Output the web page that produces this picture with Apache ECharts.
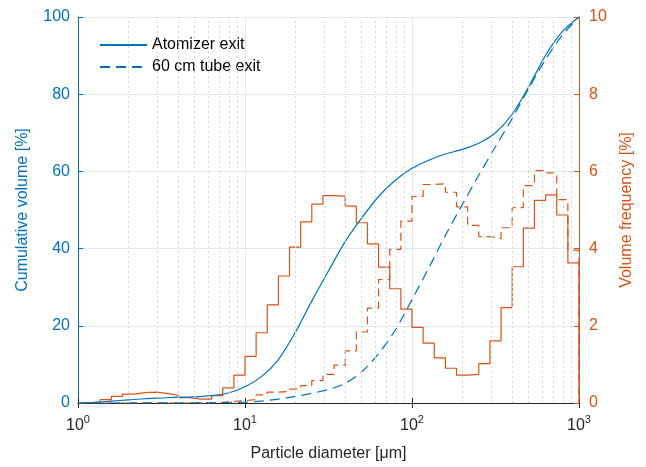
<!DOCTYPE html>
<html>
<head>
<meta charset="utf-8">
<script src="https://cdn.jsdelivr.net/npm/echarts@6/dist/echarts.min.js"></script>
<style>
  html, body { margin: 0; padding: 0; background: #fff; }
  #chart { width: 646px; height: 467px; }
</style>
</head>
<body>
<div id="chart"></div>
<script>
// histogram bins: 15 per decade from 1 to 1000 um
const binsPerDecade = 15;
const binCount = 45;

// volume frequency [%] per bin
const freqAtomizer = [0.0, 0.03, 0.09, 0.17, 0.23, 0.27, 0.28, 0.25, 0.20, 0.14,
    0.10, 0.10, 0.19, 0.39, 0.72, 1.21, 1.82, 2.54, 3.29, 4.04,
    4.69, 5.15, 5.37, 5.36, 5.10, 4.67, 4.12, 3.52, 2.96, 2.43,
    1.96, 1.55, 1.17, 0.90, 0.72, 0.74, 1.02, 1.61, 2.47, 3.53,
    4.53, 5.25, 5.39, 4.87, 3.63];
const freqTube = [0, 0, 0, 0, 0, 0, 0, 0, 0, 0,
    0, 0, 0.02, 0.04, 0.06, 0.09, 0.21, 0.28, 0.30, 0.36,
    0.45, 0.58, 0.74, 0.98, 1.35, 1.84, 2.46, 3.20, 3.98, 4.71,
    5.35, 5.66, 5.68, 5.46, 5.08, 4.60, 4.31, 4.26, 4.54, 5.06,
    5.63, 6.02, 5.96, 5.27, 3.96];

// cumulative volume [%] sampled at these diameters
const diameters = [1, 1.26, 1.58, 2.0, 2.51, 3.16, 3.98, 5.01, 6.31, 7.94,
    10, 12.6, 15.8, 20.0, 25.1, 31.6, 39.8, 50.1, 63.1, 79.4,
    100, 126, 158, 200, 251, 316, 398, 501, 631, 794, 1000];
const cumAtomizer = [0, 0.2, 0.5, 0.8, 1.1, 1.3, 1.5, 1.6, 1.9, 2.6,
    4.2, 6.9, 11.2, 18.3, 26.4, 34.2, 41.8, 48.0, 53.5, 57.7,
    60.8, 62.9, 64.5, 65.7, 67.3, 70.0, 74.8, 82.0, 90.1, 96.2, 100];
const cumTube = [0, 0, 0, 0, 0.02, 0.03, 0.05, 0.07, 0.1, 0.15,
    0.2, 0.5, 1.0, 1.7, 2.5, 3.5, 5.1, 8.1, 12.8, 18.9,
    26.8, 35.0, 43.3, 51.4, 59.0, 66.4, 73.7, 81.6, 89.0, 95.3, 100];

const minorGrid = [2, 3, 4, 5, 6, 7, 8, 9, 20, 30, 40, 50, 60, 70, 80, 90,
    200, 300, 400, 500, 600, 700, 800, 900];

const blue = '#0072BD';
const orange = '#D95319';
const font = 'Liberation Sans, Arial, Helvetica, sans-serif';

function stairs(values) {
    const pts = [];
    for (let k = 0; k < binCount; k++) {
        pts.push([Math.pow(10, k / binsPerDecade), values[k]]);
    }
    pts.push([Math.pow(10, binCount / binsPerDecade), 0]);
    return pts;
}

document.addEventListener('DOMContentLoaded', function () {
    const chart = echarts.init(document.getElementById('chart'));

    chart.setOption({
        animation: false,
        textStyle: { fontFamily: font },
        grid: { left: 78, right: 67, top: 17, bottom: 63 },
        legend: {
            left: 94,
            top: 32,
            orient: 'vertical',
            itemWidth: 47,
            itemHeight: 10,
            itemGap: 6,
            data: ['Atomizer exit', '60 cm tube exit'],
            itemStyle: { opacity: 0 },
            textStyle: { fontSize: 16, color: '#000', fontFamily: font }
        },
        xAxis: [{
            type: 'log',
            logBase: 10,
            min: 1,
            max: 1000,
            name: 'Particle diameter [\u03bcm]',
            nameLocation: 'middle',
            nameGap: 43,
            nameTextStyle: { fontSize: 16, color: '#262626', fontFamily: font },
            axisLine: { lineStyle: { color: '#262626' } },
            axisTick: { inside: true, length: 5, lineStyle: { color: '#262626' } },
            axisLabel: {
                margin: 11,
                formatter: function (v) {
                    return '{b|10}{s|' + Math.round(Math.log10(v)) + '}';
                },
                rich: {
                    b: { fontSize: 16, color: '#262626', fontFamily: font, lineHeight: 20, verticalAlign: 'bottom' },
                    s: { fontSize: 11, color: '#262626', fontFamily: font, verticalAlign: 'top' }
                }
            },
            splitLine: { show: true, lineStyle: { color: '#e6e6e6', width: 1 } }
        }, {
            type: 'log',
            logBase: 10,
            min: 1,
            max: 1000,
            position: 'top',
            axisLine: { show: true, lineStyle: { color: '#262626' } },
            axisTick: { show: true, inside: true, length: 5, lineStyle: { color: '#262626' } },
            axisLabel: { show: false },
            splitLine: { show: false }
        }],
        yAxis: [{
            type: 'value',
            min: 0,
            max: 100,
            interval: 20,
            position: 'left',
            name: 'Cumulative volume [%]',
            nameLocation: 'middle',
            nameGap: 47,
            nameTextStyle: { fontSize: 16, color: blue, fontFamily: font },
            axisLine: { show: true, lineStyle: { color: blue } },
            axisTick: { show: true, inside: true, length: 5, lineStyle: { color: blue } },
            axisLabel: { fontSize: 16, color: blue, margin: 8 },
            splitLine: { show: true, lineStyle: { color: '#dde9f4' } }
        }, {
            type: 'value',
            min: 0,
            max: 10,
            interval: 2,
            position: 'right',
            name: 'Volume frequency [%]',
            nameLocation: 'middle',
            nameGap: 40,
            nameTextStyle: { fontSize: 16, color: orange, fontFamily: font },
            axisLine: { show: true, lineStyle: { color: orange } },
            axisTick: { show: true, inside: true, length: 5, lineStyle: { color: orange } },
            axisLabel: { fontSize: 16, color: orange, margin: 10 },
            splitLine: { show: false }
        }],
        series: [
            {
                name: 'freq atomizer',
                type: 'line',
                yAxisIndex: 1,
                step: 'end',
                symbol: 'none',
                data: stairs(freqAtomizer),
                lineStyle: { color: orange, width: 1.2 },
                itemStyle: { color: orange },
                markLine: {
                    silent: true,
                    symbol: 'none',
                    label: { show: false },
                    lineStyle: { color: '#d6d6d6', type: [2, 3], width: 1 },
                    data: minorGrid.map(function (d) { return { xAxis: d }; })
                },
                z: 2
            },
            {
                name: 'freq tube',
                type: 'line',
                yAxisIndex: 1,
                step: 'end',
                symbol: 'none',
                data: stairs(freqTube),
                lineStyle: { color: orange, width: 1.2, type: [8, 5] },
                itemStyle: { color: orange },
                z: 2
            },
            {
                name: 'Atomizer exit',
                type: 'line',
                yAxisIndex: 0,
                symbol: 'none',
                smooth: 0.3,
                data: diameters.map(function (d, i) { return [d, cumAtomizer[i]]; }),
                lineStyle: { color: blue, width: 1.2 },
                itemStyle: { color: blue },
                z: 3
            },
            {
                name: '60 cm tube exit',
                type: 'line',
                yAxisIndex: 0,
                symbol: 'none',
                smooth: 0.3,
                data: diameters.map(function (d, i) { return [d, cumTube[i]]; }),
                lineStyle: { color: blue, width: 1.2, type: [10, 6] },
                itemStyle: { color: blue },
                z: 3
            }
        ]
    });
});
</script>
</body>
</html>
